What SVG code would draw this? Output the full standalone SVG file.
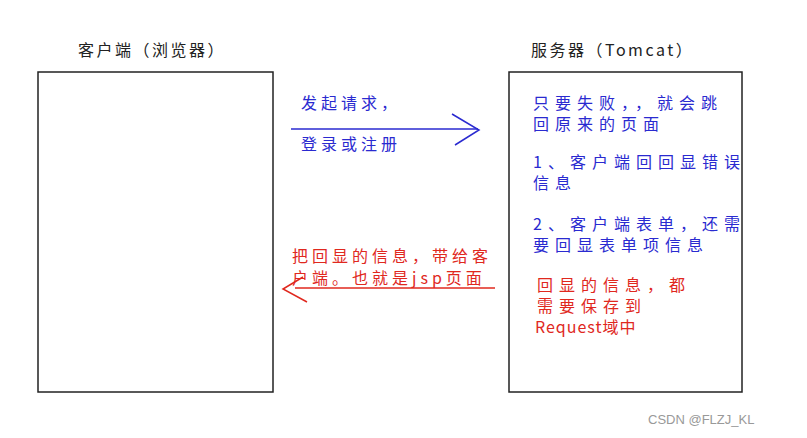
<svg xmlns="http://www.w3.org/2000/svg" width="807" height="438" viewBox="0 0 807 438">
<style>
.box{fill:#fff;stroke:#222;stroke-width:1.5}
.t{font-family:"Noto Sans CJK SC",sans-serif;font-size:16px}
.s5{letter-spacing:6px}.s4{letter-spacing:4px}
.b{fill:#2a2ad0}.r{fill:#e0281e}.k{fill:#222;letter-spacing:2.5px}
</style>
<rect width="807" height="438" fill="#fff"/>
<g id="client"><rect class="box" x="38" y="72" width="235" height="320"/>
<text class="t k" x="78" y="56">客户端（浏览器）</text></g>
<g id="server"><rect class="box" x="509" y="72" width="233" height="320"/>
<text class="t k" x="531" y="56">服务器（Tomcat）</text>
<text class="t b s5" x="533" y="109">只要失败，，就会跳</text>
<text class="t b s5" x="533" y="130">回原来的页面</text>
<text class="t b s5" x="533" y="168">1、客户端回回显错误</text>
<text class="t b s5" x="533" y="189">信息</text>
<text class="t b s5" x="533" y="230">2、客户端表单，还需</text>
<text class="t b s5" x="533" y="251">要回显表单项信息</text>
<text class="t r s5" x="537" y="291">回显的信息，都</text>
<text class="t r s5" x="537" y="312">需要保存到</text>
<text class="t r" x="535" y="333" style="letter-spacing:1px">Request域中</text></g>
<g id="connectors" fill="none" stroke-width="1.5">
<g stroke="#2a2ad0"><line x1="291" y1="129" x2="478" y2="129"/><polyline points="452,114 479,130 455,145"/></g>
<g stroke="#e0281e"><line x1="295" y1="288" x2="495" y2="288"/><polyline points="303,277 283,289 307,302"/></g>
</g>
<text class="t b s4" x="301" y="109">发起请求，</text>
<text class="t b s4" x="301" y="150">登录或注册</text>
<text class="t r s4" x="292" y="262">把回显的信息，带给客</text>
<text class="t r s4" x="292" y="284">户端。也就是jsp页面</text>
<text x="648" y="424" font-family="Liberation Sans,sans-serif" font-size="13" fill="#999">CSDN @FLZJ_KL</text>
</svg>
